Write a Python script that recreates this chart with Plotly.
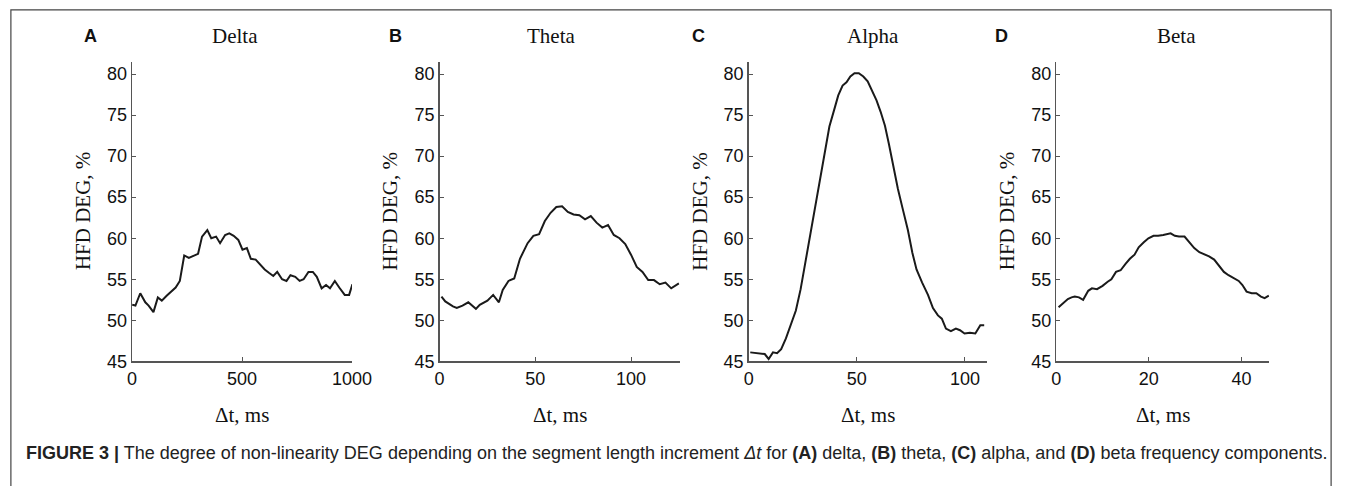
import plotly.graph_objects as go

# ---------------- data ----------------
delta_t = [0, 15, 37, 60, 75, 97, 117, 135, 157, 180, 198, 217, 237, 258, 277, 300, 318, 342,
           360, 382, 400, 423, 442, 462, 483, 502, 522, 540, 562, 582, 603, 622, 642, 660,
           682, 702, 720, 742, 762, 780, 802, 822, 840, 862, 882, 900, 922, 942, 967, 987, 1002]
delta_deg = [51.9, 51.8, 53.3, 52.2, 51.8, 51.0, 52.8, 52.4, 53.0, 53.6, 54.0, 54.8, 57.9, 57.6,
             57.8, 58.1, 60.2, 61.0, 60.0, 60.2, 59.4, 60.4, 60.6, 60.3, 59.8, 58.6, 58.8, 57.5,
             57.4, 56.8, 56.2, 55.8, 55.4, 55.9, 55.0, 54.8, 55.5, 55.3, 54.8, 55.0, 55.9, 55.9,
             55.3, 53.9, 54.3, 53.9, 54.8, 54.0, 53.1, 53.1, 54.4]

theta_t = [1, 3, 7, 9, 12, 15, 19, 21, 25, 28, 31, 33, 36, 39, 42, 46, 49, 52, 55, 58, 61,
           64, 67, 70, 73, 76, 79, 82, 85, 88, 91, 94, 97, 100, 103, 106, 109, 112, 115, 118,
           121, 125]
theta_deg = [52.9, 52.3, 51.7, 51.5, 51.8, 52.2, 51.4, 51.9, 52.4, 53.1, 52.2, 53.7, 54.8, 55.1,
             57.5, 59.4, 60.3, 60.5, 62.1, 63.1, 63.8, 63.9, 63.2, 62.9, 62.8, 62.3, 62.7, 61.9,
             61.3, 61.6, 60.4, 60.0, 59.3, 58.0, 56.5, 55.9, 54.9, 54.9, 54.4, 54.6, 53.9, 54.5]

alpha_t = [0.7, 4.4, 7.4, 9.2, 11.2, 13.1, 15.0, 17.2, 19.5, 21.8, 24.0, 26.3, 28.5, 30.8, 33.1,
           34.6, 37.3, 39.9, 41.4, 43.4, 45.2, 47.0, 48.9, 50.9, 53.0, 55.0, 56.9, 59.1, 61.0,
           63.0, 64.8, 66.6, 69.0, 71.1, 73.6, 75.7, 77.6, 80.2, 82.9, 85.2, 87.5, 89.3, 91.2,
           93.5, 95.8, 97.7, 99.8, 102.3, 104.8, 107.1, 108.9]
alpha_deg = [46.1, 46.0, 45.9, 45.3, 46.1, 46.0, 46.5, 47.8, 49.6, 51.2, 53.8, 57.2, 60.8, 64.2,
             67.4, 70.0, 73.6, 76.0, 77.4, 78.6, 79.0, 79.7, 80.1, 80.1, 79.7, 79.1, 78.0, 76.8,
             75.4, 73.7, 71.5, 69.0, 66.0, 63.7, 61.0, 58.2, 56.2, 54.6, 53.1, 51.5, 50.6, 50.2,
             49.0, 48.7, 49.0, 48.8, 48.4, 48.5, 48.4, 49.4, 49.4]

beta_t = [0.5, 1.5, 2.5, 3.3, 4.0, 4.9, 5.8, 6.9, 7.7, 8.8, 10.0, 11.1, 11.9, 12.9, 13.9, 15.0,
          15.9, 16.9, 17.8, 18.9, 19.9, 21.0, 22.0, 23.1, 24.7, 25.6, 26.5, 27.7, 28.8, 29.8,
          30.9, 31.9, 33.0, 34.1, 35.1, 36.2, 37.2, 38.3, 39.4, 40.2, 41.1, 42.2, 43.2, 44.2,
          45.0, 45.9]
beta_deg = [51.6, 52.1, 52.6, 52.8, 52.9, 52.8, 52.5, 53.6, 53.9, 53.8, 54.2, 54.7, 55.0, 55.9,
            56.1, 56.9, 57.5, 58.0, 58.9, 59.5, 60.0, 60.3, 60.3, 60.4, 60.6, 60.3, 60.2, 60.2,
            59.5, 58.8, 58.3, 58.1, 57.8, 57.4, 56.7, 55.9, 55.5, 55.1, 54.8, 54.3, 53.5, 53.3,
            53.3, 52.9, 52.7, 53.0]

panel_letters = ["A", "B", "C", "D"]
panel_titles = ["Delta", "Theta", "Alpha", "Beta"]
x_tickvals = [[0, 500, 1000], [0, 50, 100], [0, 50, 100], [0, 20, 40]]
y_tickvals = [45, 50, 55, 60, 65, 70, 75, 80]
x_title = "\u0394t, ms"
y_title = "HFD DEG, %"
caption = ("<b>FIGURE 3 |</b> The degree of non-linearity DEG depending on the segment length "
           "increment <i>\u0394t</i> for <b>(A)</b> delta, <b>(B)</b> theta, <b>(C)</b> alpha, "
           "and <b>(D)</b> beta frequency components.")

# ---------------- layout geometry ----------------
W, H = 1357, 486
x_pix = [(129.5, 353.5), (442.7, 687.3), (757.7, 1000.0), (1071.0, 1288.0)]
x_ranges = [[0, 1000], [0, 125.4], [0, 110], [0, 46]]
y_pix = (369, 63)  # bottom, top
y_range = [45, 81.5]
letter_x = [87, 398, 707, 1015]
title_x = [234, 556, 884, 1193]
ytitle_offset = 50.5

serif = "Liberation Serif, Times New Roman, serif"
sans = "Liberation Sans, Arial, sans-serif"
axis_col = "#555555"

series = [(delta_t, delta_deg), (theta_t, theta_deg), (alpha_t, alpha_deg), (beta_t, beta_deg)]

fig = go.Figure()
layout = dict(
    width=W, height=H,
    margin=dict(l=0, r=0, t=0, b=0),
    paper_bgcolor="white", plot_bgcolor="white",
    showlegend=False,
    annotations=[], shapes=[],
)

for i, (xs, ys) in enumerate(series):
    n = "" if i == 0 else str(i + 1)
    fig.add_trace(go.Scatter(x=xs, y=ys, mode="lines",
                             line=dict(color="#1a1a1a", width=2),
                             xaxis="x" + n, yaxis="y" + n))
    x0, x1 = x_pix[i]
    layout["xaxis" + n] = dict(
        domain=[x0 / W, x1 / W], range=x_ranges[i], anchor="y" + n,
        tickvals=x_tickvals[i], ticks="inside", ticklen=4, tickcolor=axis_col,
        showline=True, linecolor=axis_col, linewidth=1.5,
        showgrid=False, zeroline=False,
        tickfont=dict(family=sans, size=18, color="#111"),
    )
    layout["yaxis" + n] = dict(
        domain=[(H - y_pix[0]) / H, (H - y_pix[1]) / H], range=y_range, anchor="x" + n,
        tickvals=y_tickvals, ticks="inside", ticklen=4, tickcolor=axis_col,
        showline=True, linecolor=axis_col, linewidth=1.5,
        showgrid=False, zeroline=False,
        tickfont=dict(family=sans, size=18, color="#111"),
    )
    layout["annotations"].append(dict(
        text="<b>%s</b>" % panel_letters[i], x=letter_x[i] / W, y=(H - 37) / H,
        xref="paper", yref="paper", showarrow=False, xanchor="center", yanchor="middle",
        font=dict(family=sans, size=18, color="#111")))
    layout["annotations"].append(dict(
        text=panel_titles[i], x=title_x[i] / W, y=(H - 37) / H,
        xref="paper", yref="paper", showarrow=False, xanchor="center", yanchor="middle",
        font=dict(family=serif, size=21, color="#111")))
    layout["annotations"].append(dict(
        text=x_title, x=(x0 + x1) / 2 / W, y=(H - 424) / H,
        xref="paper", yref="paper", showarrow=False, xanchor="center", yanchor="middle",
        font=dict(family=serif, size=21, color="#111")))
    layout["annotations"].append(dict(
        text=y_title, x=(x0 - ytitle_offset) / W, y=(H - 216) / H, textangle=-90,
        xref="paper", yref="paper", showarrow=False, xanchor="center", yanchor="middle",
        font=dict(family=serif, size=21, color="#111")))

layout["annotations"].append(dict(
    text=caption, x=19 / W, y=(H - 463) / H, xref="paper", yref="paper",
    showarrow=False, xanchor="left", yanchor="middle",
    font=dict(family=sans, size=18, color="#222")))

layout["shapes"].append(dict(
    type="rect", xref="paper", yref="paper",
    x0=6 / W, x1=1351 / W, y0=-0.2, y1=(H - 10) / H,
    line=dict(color="#444", width=1.2), fillcolor="rgba(0,0,0,0)", layer="below"))

fig.update_layout(**layout)
fig.write_html(
    "out.html",
    config={"displayModeBar": False, "staticPlot": True},
    post_script=("document.body.style.margin='0';"
                 "document.body.style.overflow='hidden';"
                 "document.documentElement.style.overflow='hidden';"),
)
